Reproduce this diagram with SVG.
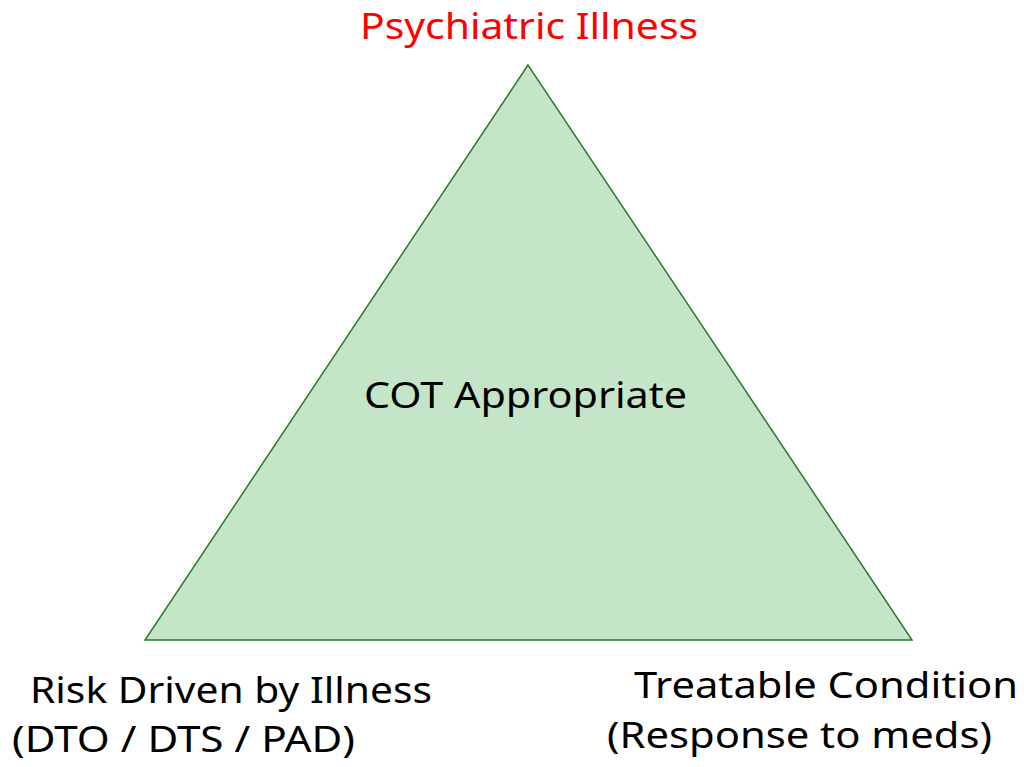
<svg xmlns="http://www.w3.org/2000/svg" width="1024" height="767" viewBox="0 0 1024 767">
<style>
text{font-family:"Noto Sans","Open Sans","Liberation Sans",sans-serif;font-size:36px;fill:#000}
.title{fill:#ff0000}
.tri{fill:#c5e5c8;stroke:#2a7a2a;stroke-width:1.5}
</style>
<rect width="1024" height="767" fill="#ffffff"/>
<g id="triangle">
<polygon class="tri" points="528,65 145,640 912,640"/>
<text x="364" y="408" textLength="323" lengthAdjust="spacingAndGlyphs">COT Appropriate</text>
</g>
<g id="top-label">
<text class="title" x="360" y="39" textLength="338" lengthAdjust="spacingAndGlyphs">Psychiatric Illness</text>
</g>
<g id="left-label">
<text x="30" y="703" textLength="402" lengthAdjust="spacingAndGlyphs">Risk Driven by Illness</text>
<text x="12" y="752" textLength="343" lengthAdjust="spacingAndGlyphs">(DTO / DTS / PAD)</text>
</g>
<g id="right-label">
<text x="634" y="698" textLength="384" lengthAdjust="spacingAndGlyphs">Treatable Condition</text>
<text x="607" y="748" textLength="385" lengthAdjust="spacingAndGlyphs">(Response to meds)</text>
</g>
<g id="connectors"></g>
</svg>
